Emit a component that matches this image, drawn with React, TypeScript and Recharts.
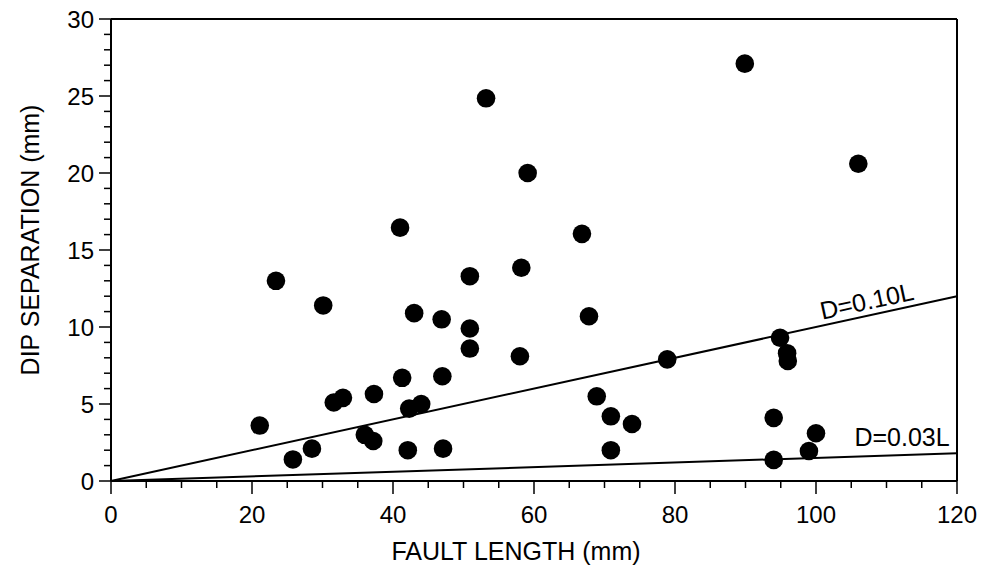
import { ScatterChart, Scatter, XAxis, YAxis, ReferenceLine, ReferenceDot } from 'recharts';

const faultLength = [
  21.1, 23.4, 25.8, 28.5, 30.1, 31.6, 32.9, 36.0, 37.2, 37.3,
  41.0, 41.3, 42.1, 42.3, 43.0, 44.0, 46.9, 47.0, 47.1, 50.9,
  50.9, 50.9, 53.2, 58.2, 58.0, 59.1, 66.8, 67.8, 68.9, 70.9,
  70.9, 73.9, 78.9, 89.9, 94.0, 94.0, 94.9, 95.9, 96.0, 99.0,
  100.0, 106.0,
];
const dipSeparation = [
  3.6, 13.0, 1.4, 2.1, 11.4, 5.1, 5.4, 3.0, 2.6, 5.65,
  16.45, 6.7, 2.0, 4.7, 10.9, 5.0, 10.5, 6.8, 2.1, 13.3,
  9.9, 8.6, 24.85, 13.85, 8.1, 20.0, 16.05, 10.7, 5.5, 4.2,
  2.0, 3.7, 7.9, 27.1, 4.1, 1.37, 9.3, 8.3, 7.8, 1.95,
  3.1, 20.6,
];

const fitX = [0, 120];
const line10Y = [0, 12];
const line03Y = [0, 1.8];

const xTicks = [0, 20, 40, 60, 80, 100, 120];
const yTicks = [0, 5, 10, 15, 20, 25, 30];
const xMinor = [5, 10, 15, 25, 30, 35, 45, 50, 55, 65, 70, 75, 85, 90, 95, 105, 110, 115];
const yMinor = [1, 2, 3, 4, 6, 7, 8, 9, 11, 12, 13, 14, 16, 17, 18, 19, 21, 22, 23, 24, 26, 27, 28, 29];

const lineLabels = [
  { text: 'D=0.10L', x: 107.2, y: 11.7, angle: -12.3 },
  { text: 'D=0.03L', x: 112.2, y: 2.85, angle: 0 },
];

const points = faultLength.map((x, i) => ({ x, y: dipSeparation[i] }));

const FONT = '"Liberation Sans", Arial, Helvetica, sans-serif';

function XTick(props: any) {
  const { x, y, payload } = props;
  const major = xTicks.includes(payload.value);
  return (
    <g>
      <line x1={x} x2={x} y1={y} y2={y + (major ? 13 : 7)} stroke="#000" strokeWidth={1.5} />
      {major && (
        <text x={x} y={y + 33} textAnchor="middle" dominantBaseline="central" fontSize={24} fontFamily={FONT} fill="#000">
          {payload.value}
        </text>
      )}
    </g>
  );
}

function YTick(props: any) {
  const { x, y, payload } = props;
  const major = yTicks.includes(payload.value);
  return (
    <g>
      <line x1={x - (major ? 12 : 7)} x2={x} y1={y} y2={y} stroke="#000" strokeWidth={1.5} />
      {major && (
        <text x={x - 17} y={y} textAnchor="end" dominantBaseline="central" fontSize={24} fontFamily={FONT} fill="#000">
          {payload.value}
        </text>
      )}
    </g>
  );
}

export default function App() {
  return (
    <div style={{ position: 'absolute', left: 0, top: 0, background: '#fff' }}>
      <ScatterChart width={981} height={566} margin={{ top: 19, right: 24, bottom: 0, left: 0 }}>
        <XAxis
          type="number"
          dataKey="x"
          domain={[0, 120]}
          ticks={[...xTicks, ...xMinor].sort((a, b) => a - b)}
          interval={0}
          tickSize={0}
          tickMargin={0}
          tickLine={false}
          tick={<XTick />}
          height={85}
          axisLine={{ stroke: '#000', strokeWidth: 2 }}
          allowDataOverflow
          label={{
            value: 'FAULT LENGTH (mm)',
            position: 'insideBottom',
            offset: 6,
            dx: -18,
            style: { fontSize: 25, fontFamily: FONT, fill: '#000' },
          }}
        />
        <YAxis
          type="number"
          dataKey="y"
          domain={[0, 30]}
          ticks={[...yTicks, ...yMinor].sort((a, b) => a - b)}
          interval={0}
          tickSize={0}
          tickMargin={0}
          tickLine={false}
          tick={<YTick />}
          width={111}
          axisLine={{ stroke: '#000', strokeWidth: 2 }}
          allowDataOverflow
          label={{
            value: 'DIP SEPARATION (mm)',
            content: (p: any) => {
              const vb = p.viewBox;
              const cx = vb.x + 30;
              const cy = vb.y + vb.height / 2 - 10;
              return (
                <text
                  x={cx}
                  y={cy}
                  transform={`rotate(-90, ${cx}, ${cy})`}
                  textAnchor="middle"
                  dominantBaseline="central"
                  fontSize={25}
                  fontFamily={FONT}
                  fill="#000"
                >
                  DIP SEPARATION (mm)
                </text>
              );
            },
          }}
        />
        <ReferenceLine y={30} stroke="#000" strokeWidth={2} />
        <ReferenceLine x={120} stroke="#000" strokeWidth={2} />
        <ReferenceLine
          segment={[{ x: fitX[0], y: line10Y[0] }, { x: fitX[1], y: line10Y[1] }]}
          stroke="#000"
          strokeWidth={2}
        />
        <ReferenceLine
          segment={[{ x: fitX[0], y: line03Y[0] }, { x: fitX[1], y: line03Y[1] }]}
          stroke="#000"
          strokeWidth={2}
        />
        {lineLabels.map((l) => (
          <ReferenceDot
            key={l.text}
            x={l.x}
            y={l.y}
            r={0}
            stroke="none"
            fill="none"
            label={{
              content: (p: any) => {
                const vb = p.viewBox;
                const cx = vb.x + vb.width / 2;
                const cy = vb.y + vb.height / 2;
                return (
                  <text
                    x={cx}
                    y={cy}
                    transform={`rotate(${l.angle}, ${cx}, ${cy})`}
                    textAnchor="middle"
                    dominantBaseline="central"
                    fontSize={25}
                    fontFamily={FONT}
                    fill="#000"
                  >
                    {l.text}
                  </text>
                );
              },
            }}
          />
        ))}
        <Scatter
          data={points}
          isAnimationActive={false}
          shape={(p: any) => <circle cx={p.cx} cy={p.cy} r={9.3} fill="#000" />}
        />
      </ScatterChart>
    </div>
  );
}
